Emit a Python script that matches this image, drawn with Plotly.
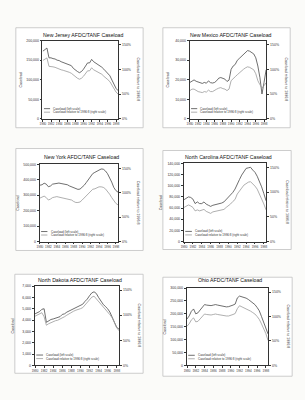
import plotly.graph_objects as go

W, H = 305, 400

YEARS = [1980, 1980.5, 1981, 1981.5, 1982, 1982.5, 1983, 1983.5, 1984, 1984.5,
         1985, 1985.5, 1986, 1986.5, 1987, 1987.5, 1988, 1988.5, 1989, 1989.5,
         1990, 1990.5, 1991, 1991.5, 1992, 1992.5, 1993, 1993.5, 1994, 1994.5,
         1995, 1995.5, 1996, 1996.5, 1997, 1997.5, 1998, 1998.5]

XTICKS = [1980, 1982, 1984, 1986, 1988, 1990, 1992, 1994, 1996, 1998]

# caseload (thousands, left scale) and caseload relative (% , right scale)
NJ_CASE = [173, 176, 181, 156, 156, 154, 153, 150, 149, 146, 144, 143, 141, 138, 136, 129, 124, 121, 118, 121,
           127, 135, 143, 143, 152, 146, 143, 139, 136, 132, 127, 122, 116, 110, 99, 87, 78, 72]
NJ_REL = [118, 120, 123, 106, 106, 105, 104, 102, 101, 99, 98, 97, 96, 94, 92, 88, 84, 82, 80, 82,
          86, 92, 97, 97, 103, 99, 97, 95, 92, 90, 86, 83, 79, 75, 67, 59, 54, 50]

NM_CASE = [18.6, 19.5, 19.9, 19.2, 18.9, 18.3, 18.1, 18.6, 18.2, 19.4, 18.5, 18.3, 18.6, 19.5, 20.8, 21.1, 20.7, 20.3, 19.1, 19.8,
           25.3, 27.0, 27.8, 29.9, 30.9, 32.0, 33.2, 34.3, 34.9, 34.6, 34.1, 33.2, 31.2, 27.0, 21.1, 12.7, 18.6, 25.0]
NM_REL = [57, 60, 60, 57, 55, 54, 53, 55, 54, 58, 55, 55, 58, 60, 62, 63, 61, 60, 57, 60,
          77, 82, 85, 89, 93, 98, 100, 103, 105, 104, 102, 99, 91, 77, 69, 62, 67, 73]

NY_CASE = [365, 368, 378, 372, 355, 360, 372, 376, 380, 379, 376, 373, 370, 368, 360, 354, 345, 340, 338, 340,
           352, 365, 383, 400, 418, 440, 448, 455, 465, 470, 469, 458, 440, 415, 385, 350, 330, 320]
NY_REL = [89, 91, 93, 90, 85, 87, 90, 91, 92, 91, 90, 89, 88, 87, 86, 85, 82, 80, 80, 81,
          85, 89, 94, 99, 103, 107, 108, 110, 112, 112, 111, 108, 103, 97, 90, 83, 78, 75]

NC_CASE = [75, 77, 80, 79, 76, 68, 71, 68, 68, 71, 67, 65, 63, 65, 66, 67, 67, 69, 71, 75,
           79, 83, 88, 94, 104, 111, 119, 125, 131, 132, 133, 128, 124, 117, 108, 98, 86, 73]
NC_REL = [69, 71, 74, 72, 69, 62, 64, 62, 63, 65, 61, 59, 57, 60, 61, 61, 63, 64, 65, 69,
          72, 76, 81, 85, 96, 101, 108, 114, 118, 120, 121, 117, 112, 106, 97, 88, 76, 64]

ND_CASE = [4.55, 4.65, 4.75, 4.95, 5.0, 3.8, 3.95, 4.05, 4.1, 4.15, 4.2, 4.3, 4.5, 4.55, 4.7, 4.8, 4.9, 5.05, 5.15, 5.25,
           5.3, 5.4, 5.65, 5.85, 6.15, 6.4, 6.5, 6.35, 6.0, 5.65, 5.4, 5.2, 5.0, 4.7, 4.3, 3.8, 3.35, 3.2]
ND_REL = [98, 100, 103, 105, 97, 80, 83, 85, 88, 89, 90, 92, 95, 97, 100, 103, 105, 108, 110, 111,
          113, 115, 120, 125, 131, 136, 138, 133, 127, 122, 117, 112, 107, 101, 95, 85, 75, 69]

OH_CASE = [180, 192, 210, 219, 200, 204, 215, 228, 236, 234, 232, 232, 234, 236, 234, 232, 232, 229, 227, 228,
           230, 234, 238, 262, 269, 267, 263, 261, 256, 250, 244, 236, 225, 212, 190, 168, 148, 122]
OH_REL = [80, 85, 93, 97, 89, 90, 95, 100, 105, 104, 103, 103, 104, 105, 104, 103, 103, 102, 101, 101,
          102, 104, 106, 116, 122, 120, 118, 116, 114, 111, 108, 105, 100, 94, 85, 75, 65, 51]

TITLES = ["New Jersey AFDC/TANF Caseload", "New Mexico AFDC/TANF Caseload",
          "New York AFDC/TANF Caseload", "North Carolina AFDC/TANF Caseload",
          "North Dakota AFDC/TANF Caseload", "Ohio AFDC/TANF Caseload"]
CASES = [NJ_CASE, NM_CASE, NY_CASE, NC_CASE, ND_CASE, OH_CASE]
RELS = [NJ_REL, NM_REL, NY_REL, NC_REL, ND_REL, OH_REL]
LEFT_MAX = [200000, 40000, 500000, 140000, 7000, 300000]
LEFT_DTICK = [50000, 10000, 100000, 20000, 1000, 50000]
REL_TICKS = [0, 50, 100, 150]
LEG1 = "Caseload (left scale)"
LEG2 = "Caseload relative to 1996:8 (right scale)"
RIGHT_TITLE = "Caseload relative to 1996:8"

# layout geometry in pixels: plot area (l, t, r, b) and outer box (l, t, r, b)
PLOTS = [(40, 39, 117, 118), (189, 39, 267, 118),
         (37, 164, 117, 242), (183, 163, 267, 242),
         (32, 287, 118, 367), (186, 289, 269, 367)]
BOXES = [(13, 26, 142, 127), (162, 26, 291, 127),
         (13, 148, 142, 251), (162, 150, 292, 250),
         (12, 275, 142, 375), (162, 278, 293, 378)]
TITLE_Y = [33, 33, 157, 157, 281, 281]

FONT = "Liberation Sans, Arial, sans-serif"
C1 = "#4a4a4a"
C2 = "#9a9a9a"

fig = go.Figure()
layout = dict(width=W, height=H, margin=dict(l=0, r=0, t=0, b=0),
              paper_bgcolor="#fbfbf9", plot_bgcolor="rgba(0,0,0,0)",
              showlegend=False, font=dict(family=FONT, color="#333"))
shapes, annots = [], []

for i in range(6):
    n = i + 1
    xa = "x" if n == 1 else f"x{n}"
    yl = "y" if i == 0 else f"y{2*i+1}"
    yr = f"y{2*i+2}"
    l, t, r, b = PLOTS[i]
    xd = [l / W, r / W]
    yd = [1 - b / H, 1 - t / H]

    fig.add_trace(go.Scatter(x=YEARS, y=[v * 1000 for v in CASES[i]], mode="lines",
                             line=dict(color=C1, width=0.8), xaxis=xa, yaxis=yl))
    fig.add_trace(go.Scatter(x=YEARS, y=RELS[i], mode="lines",
                             line=dict(color=C2, width=0.8), xaxis=xa, yaxis=yr))

    axline = dict(showline=True, linecolor="#333", linewidth=0.7, showgrid=False,
                  zeroline=False, ticks="outside", ticklen=2, tickwidth=0.5, tickcolor="#333")
    layout[f"xaxis{'' if n == 1 else n}"] = dict(
        domain=xd, anchor=yl, range=[1979.9, 1998.6], tickvals=XTICKS,
        ticktext=[str(v) for v in XTICKS], tickfont=dict(size=3.0), tickangle=0,
        mirror=True, **axline)
    layout[f"yaxis{'' if i == 0 else 2*i+1}"] = dict(
        domain=yd, anchor=xa, range=[0, LEFT_MAX[i]], dtick=LEFT_DTICK[i],
        tickformat=",d", tickfont=dict(size=3.5), **axline)
    layout[f"yaxis{2*i+2}"] = dict(
        domain=yd, anchor=xa, overlaying=yl, side="right", range=[0, 158],
        tickvals=REL_TICKS, ticktext=[f"{v}%" for v in REL_TICKS],
        tickfont=dict(size=3.5), **axline)

    # outer box
    bl, bt, br, bb = BOXES[i]
    shapes.append(dict(type="rect", xref="paper", yref="paper",
                       x0=bl / W, x1=br / W, y0=1 - bb / H, y1=1 - bt / H,
                       line=dict(color="#c0c0c0", width=0.8), fillcolor="white", layer="below"))
    # title
    annots.append(dict(text=TITLES[i], xref="paper", yref="paper",
                       x=((l + r) / 2 + 3) / W, y=1 - TITLE_Y[i] / H, showarrow=False,
                       font=dict(size=5.2, color="#111"), xanchor="center", yanchor="middle"))
    # axis titles
    annots.append(dict(text="Caseload", xref="paper", yref="paper",
                       x=(l - 22) / W, y=1 - ((t + b) / 2) / H, textangle=-90, showarrow=False,
                       font=dict(size=3.6), xanchor="center", yanchor="middle"))
    annots.append(dict(text=RIGHT_TITLE, xref="paper", yref="paper",
                       x=(r + 20) / W, y=1 - ((t + b) / 2) / H, textangle=90, showarrow=False,
                       font=dict(size=3.6), xanchor="center", yanchor="middle"))
    # legend
    xdom = f"{xa} domain"
    ydom = f"{yl} domain"
    for k, (txt, col, yy) in enumerate([(LEG1, C1, 0.13), (LEG2, C2, 0.085)]):
        shapes.append(dict(type="line", xref=xdom, yref=ydom, x0=0.02, x1=0.1, y0=yy, y1=yy,
                           line=dict(color=col, width=0.8)))
        annots.append(dict(text=txt, xref=xdom, yref=ydom, x=0.115, y=yy, showarrow=False,
                           xanchor="left", yanchor="middle", font=dict(size=3.0, color="#333")))

layout["shapes"] = shapes
layout["annotations"] = annots
fig.update_layout(**layout)
fig.write_html("out.html")
